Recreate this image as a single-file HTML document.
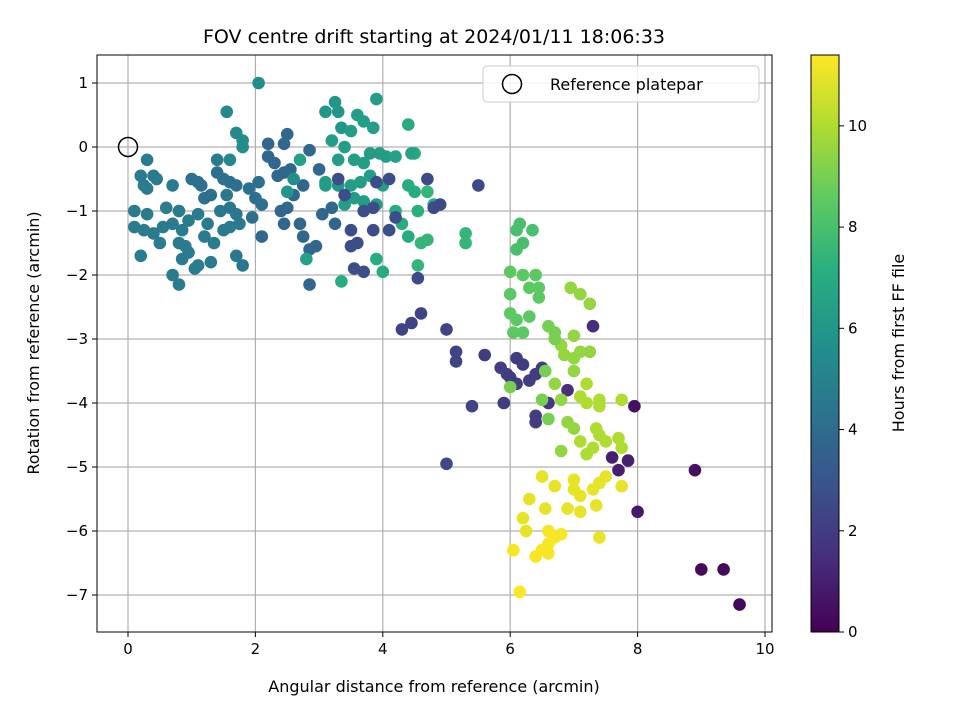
<!DOCTYPE html>
<html><head><meta charset="utf-8"><style>
body{margin:0;background:#fff;font-family:"Liberation Sans","DejaVu Sans",sans-serif;}
svg text{font-family:"DejaVu Sans","Liberation Sans",sans-serif;}
</style></head><body>
<svg id="c" width="960" height="720" xmlns="http://www.w3.org/2000/svg">
<defs><linearGradient id="vg" x1="0" y1="1" x2="0" y2="0">
<stop offset="0" stop-color="#440154"/><stop offset="0.125" stop-color="#472d7b"/><stop offset="0.25" stop-color="#3b528b"/><stop offset="0.375" stop-color="#2c728e"/><stop offset="0.5" stop-color="#21918c"/><stop offset="0.625" stop-color="#28ae80"/><stop offset="0.75" stop-color="#5ec962"/><stop offset="0.875" stop-color="#addc30"/><stop offset="1" stop-color="#fde725"/></linearGradient></defs>
<g id="grid"></g><g id="pts"></g><g id="axes"></g>
</svg>
<script>
const xTicks=[0,2,4,6,8,10];
const yTicks=[1,0,-1,-2,-3,-4,-5,-6,-7];
const cbTicks=[0,2,4,6,8,10];
const hMax=11.4;
const ptsX=[0.3,0.2,0.4,0.45,0.3,0.25,0.1,0.1,0.3,0.25,0.4,0.2,0.55,0.5,0.7,0.6,0.8,0.7,0.85,0.95,0.8,0.9,0.95,0.85,0.7,0.8,1.05,1.1,1.0,1.1,1.15,1.2,1.3,1.1,1.25,1.2,1.35,1.3,1.5,1.4,1.4,1.5,1.6,1.7,1.55,1.6,1.45,1.7,1.6,1.75,1.7,1.8,1.55,1.7,1.8,1.8,1.6,1.9,2.0,2.05,2.1,1.95,2.05,2.1,2.2,2.2,2.3,2.35,2.45,2.5,2.45,2.55,2.4,2.45,2.5,2.6,2.75,2.7,2.75,2.85,2.85,2.95,2.85,3.0,3.05,3.2,3.25,2.6,2.7,2.8,2.5,
3.1,3.25,3.3,3.35,3.5,3.6,3.7,3.85,3.9,3.2,3.4,3.3,3.55,3.7,3.8,3.95,4.05,3.1,3.1,3.3,3.5,3.65,3.8,4.0,3.4,3.55,3.7,3.9,3.35,3.9,4.0,4.2,4.3,4.4,4.4,4.4,4.5,4.5,4.45,4.2,4.55,4.6,4.7,4.55,4.7,5.3,5.3,4.8,
3.3,3.4,3.5,3.5,3.6,3.55,3.7,3.7,3.85,3.85,3.9,4.1,4.2,4.1,4.8,4.7,4.9,5.5,4.55,4.3,4.45,4.6,5.0,5.15,5.15,5.4,5.0,5.6,5.85,5.95,6.0,6.1,6.2,5.9,6.1,6.3,6.4,6.5,6.4,6.4,6.6,6.9,7.3,7.6,7.7,7.85,7.95,8.0,8.9,9.0,9.35,9.6,
6.15,6.1,6.2,6.35,6.1,6.0,6.2,6.3,6.4,6.45,6.45,6.0,6.0,6.1,6.2,6.3,6.05,6.7,6.8,6.85,7.0,7.1,7.25,7.0,6.95,7.1,7.25,6.6,6.7,7.0,7.1,7.2,7.2,7.4,7.4,6.7,6.8,6.9,7.0,7.1,7.2,7.3,7.35,7.4,7.5,7.7,7.75,7.75,6.8,6.6,6.5,6.0,6.55,
7.0,7.0,7.1,7.3,7.4,7.5,7.75,6.5,6.7,6.3,6.2,6.25,6.55,6.9,7.1,7.35,7.4,6.05,6.4,6.5,6.6,6.6,6.7,6.8,6.5,6.6,6.15];
const ptsY=[-0.2,-0.45,-0.45,-0.5,-0.65,-0.6,-1.0,-1.25,-1.05,-1.3,-1.35,-1.7,-1.25,-1.5,-0.6,-0.95,-1.0,-1.2,-1.3,-1.15,-1.5,-1.55,-1.65,-1.75,-2.0,-2.15,-1.9,-1.85,-0.5,-0.55,-0.6,-0.8,-0.75,-1.05,-1.2,-1.4,-1.5,-1.8,-1.3,-0.2,-0.4,-0.5,-0.55,-0.6,-0.75,-0.95,-1.0,-1.05,-1.25,-1.2,-1.7,-1.85,0.55,0.22,0.1,0.0,-0.2,-0.65,-0.8,-0.55,-0.9,-1.1,1.0,-1.4,0.05,-0.15,-0.25,-0.45,-0.4,0.2,0.05,-0.35,-1.0,-1.2,-0.95,-0.75,-0.6,-1.2,-1.4,-0.05,-1.6,-1.55,-2.15,-0.35,-1.05,-0.95,-1.2,-0.5,-0.2,-1.75,-0.7,
0.55,0.7,0.55,0.3,0.25,0.5,0.4,0.3,0.75,0.1,0.0,-0.2,-0.2,-0.25,-0.1,-0.1,-0.15,-0.55,-0.6,-0.6,-0.6,-0.55,-0.45,-0.6,-0.9,-0.8,-0.85,-0.9,-2.1,-1.75,-1.95,-1.0,-1.2,-1.4,0.35,-0.6,-0.7,-0.1,-0.1,-0.15,-1.0,-1.5,-1.45,-1.85,-0.7,-1.35,-1.5,-0.9,
-0.5,-0.75,-1.3,-1.55,-1.5,-1.9,-1.95,-1.0,-0.95,-1.3,-0.55,-0.5,-1.1,-1.3,-0.95,-0.5,-0.9,-0.6,-2.05,-2.85,-2.75,-2.6,-2.85,-3.2,-3.35,-4.05,-4.95,-3.25,-3.45,-3.55,-3.6,-3.3,-3.4,-4.0,-3.7,-3.65,-3.55,-3.45,-4.2,-4.3,-4.0,-3.8,-2.8,-4.85,-5.05,-4.9,-4.05,-5.7,-5.05,-6.6,-6.6,-7.15,
-1.2,-1.3,-1.5,-1.3,-1.6,-1.95,-2.0,-2.2,-2.0,-2.2,-2.35,-2.3,-2.6,-2.7,-2.9,-2.65,-2.9,-2.9,-3.1,-3.25,-3.3,-3.2,-3.2,-2.95,-2.2,-2.3,-2.45,-2.8,-3.0,-3.5,-3.9,-3.7,-4.0,-4.05,-3.95,-3.7,-3.95,-4.3,-4.4,-4.6,-4.8,-4.7,-4.4,-4.5,-4.6,-4.55,-4.7,-3.95,-4.75,-4.25,-3.95,-3.75,-3.5,
-5.2,-5.35,-5.45,-5.35,-5.25,-5.15,-5.3,-5.15,-5.3,-5.5,-5.8,-6.0,-5.65,-5.65,-5.7,-5.6,-6.1,-6.3,-6.4,-6.3,-6.2,-6.0,-6.1,-6.05,-6.3,-6.35,-6.95];
const ptsH=[4.7,4.7,4.7,4.7,4.7,4.7,4.7,4.7,4.7,4.7,4.7,4.7,4.7,4.7,4.7,4.7,4.7,4.7,4.7,4.7,4.7,4.7,4.7,4.7,4.7,4.7,4.7,4.7,4.2,4.2,4.2,4.2,4.2,4.7,4.7,4.7,4.7,4.7,4.7,4.7,4.2,4.2,4.2,4.2,4.5,4.5,4.5,4.5,4.7,4.7,4.5,4.5,5.3,5.3,5.5,5.5,5.3,4.2,4.2,4.2,4.2,4.2,5.5,3.8,3.8,3.8,3.8,3.8,3.8,3.8,3.8,3.8,3.8,3.8,3.8,3.8,3.8,3.8,3.8,3.8,3.8,3.8,3.8,3.8,3.8,3.8,3.8,5.5,6.5,6.5,6,
6,6,6,6,6.3,6.3,6.3,6.3,6.3,6.3,6.3,6.3,6.3,6.3,6.3,6.3,6.3,6.3,6.3,6,6.3,6.3,6.3,6.3,6.3,6.3,6.3,6.3,7,7,7,7,7,7,7,7,7,7,6.5,6.5,7.2,7.5,7.5,7.5,7.5,7.5,7.5,7,
2.7,2.7,2.7,2.7,2.7,2.7,2.7,2.7,2.7,2.7,2.7,2.7,2.7,2.7,2.5,2.5,2.5,2.5,2.5,2.3,2.3,2.3,2.3,2.3,2.3,2.3,2.5,2,2,2,2,2,2,2,2,2,2,2,2,2,1.8,1.5,1.5,1,1,1,0.5,0.8,0.5,0.3,0.3,0.2,
8,8,8,8,8,8.5,8.5,8.5,8.5,8.5,8.5,8.5,8.5,8.5,8.5,8.5,8.5,9,9.5,9.5,9.5,9.5,9.5,9.5,9.5,9.5,9.5,9,9,9.5,10,10,10,10,10,9.5,9.5,9.5,9.5,10,10,10,10,10,10,10,10,10,9.5,9,9,9,9,
11,11,11,11,11,11,11,11,11,11,11,11,11,11,11,11,11,11.3,11.3,11.3,11.3,11.3,11.3,11.3,11.3,11.3,11.4];
const L=97,R=772,T=55,B=632;
const sx=v=>128+v*63.7, sy=v=>147-v*64;
const stops=["#440154","#472d7b","#3b528b","#2c728e","#21918c","#28ae80","#5ec962","#addc30","#fde725"];
function hex(c){return [1,3,5].map(i=>parseInt(c.substr(i,2),16));}
function vir(h){let t=Math.max(0,Math.min(1,h/hMax))*8,i=Math.min(7,Math.floor(t)),f=t-i;const a=hex(stops[i]),b=hex(stops[i+1]);return "rgb("+a.map((v,k)=>Math.round(v+(b[k]-v)*f)).join(",")+")";}
const NS="http://www.w3.org/2000/svg";
function mk(tag,attrs,parent,txt){const e=document.createElementNS(NS,tag);for(const k in attrs)e.setAttribute(k,attrs[k]);if(txt!==undefined)e.textContent=txt;parent.appendChild(e);return e;}
const grid=document.getElementById('grid'),pts=document.getElementById('pts'),ax=document.getElementById('axes');
xTicks.forEach(v=>{const g=mk('line',{x1:sx(v),x2:sx(v),y1:T,y2:B,stroke:'#b0b0b0','stroke-width':1.2},grid);


mk('line',{x1:sx(v),x2:sx(v),y1:B,y2:B+5,stroke:'#000'},ax);
const t=mk('text',{x:sx(v),y:B+22,'text-anchor':'middle','font-size':15},ax,String(v));

});
yTicks.forEach(v=>{const g=mk('line',{x1:L,x2:R,y1:sy(v),y2:sy(v),stroke:'#b0b0b0','stroke-width':1.2},grid);


mk('line',{x1:L-5,x2:L,y1:sy(v),y2:sy(v),stroke:'#000'},ax);
const t=mk('text',{x:L-9,y:sy(v)+5,'text-anchor':'end','font-size':15},ax,(v<0?'\u2212'+(-v):String(v)));

});
ptsX.forEach((x,i)=>{const c=mk('circle',{cx:sx(x),cy:sy(ptsY[i]),r:6.3,fill:vir(ptsH[i])},pts);

});
const ref=mk('circle',{cx:sx(0),cy:sy(0),r:9.5,fill:'none',stroke:'#000','stroke-width':1.5},pts);


mk('rect',{x:L,y:T,width:R-L,height:B-T,fill:'none',stroke:'#000','stroke-width':1},ax);
const tt=mk('text',{x:434,y:43,'text-anchor':'middle','font-size':19},ax,'FOV centre drift starting at 2024/01/11 18:06:33');


const xl=mk('text',{x:434,y:692,'text-anchor':'middle','font-size':16},ax,'Angular distance from reference (arcmin)');


const yl=mk('text',{x:0,y:0,'text-anchor':'middle','font-size':16,transform:'translate(39,343) rotate(-90)'},ax,'Rotation from reference (arcmin)');


const lg=mk('g',{},ax);


mk('rect',{x:483,y:66,width:276,height:36,rx:4,fill:'#fff','fill-opacity':0.85,stroke:'#ccc'},lg);
mk('circle',{cx:512,cy:84,r:9.5,fill:'none',stroke:'#000','stroke-width':1.5},lg);
mk('text',{x:550,y:90,'font-size':16},lg,'Reference platepar');
const cb=mk('rect',{x:811,y:55,width:28,height:577,fill:'url(#vg)',stroke:'#000'},ax);


const cy=h=>632-h*(577/hMax);
cbTicks.forEach(v=>{mk('line',{x1:839,x2:844,y1:cy(v),y2:cy(v),stroke:'#000'},ax);
const t=mk('text',{x:848,y:cy(v)+5,'font-size':15},ax,String(v));

});
const cl=mk('text',{x:0,y:0,'text-anchor':'middle','font-size':16,transform:'translate(904,343) rotate(-90)'},ax,'Hours from first FF file');


</script>
</body></html>
